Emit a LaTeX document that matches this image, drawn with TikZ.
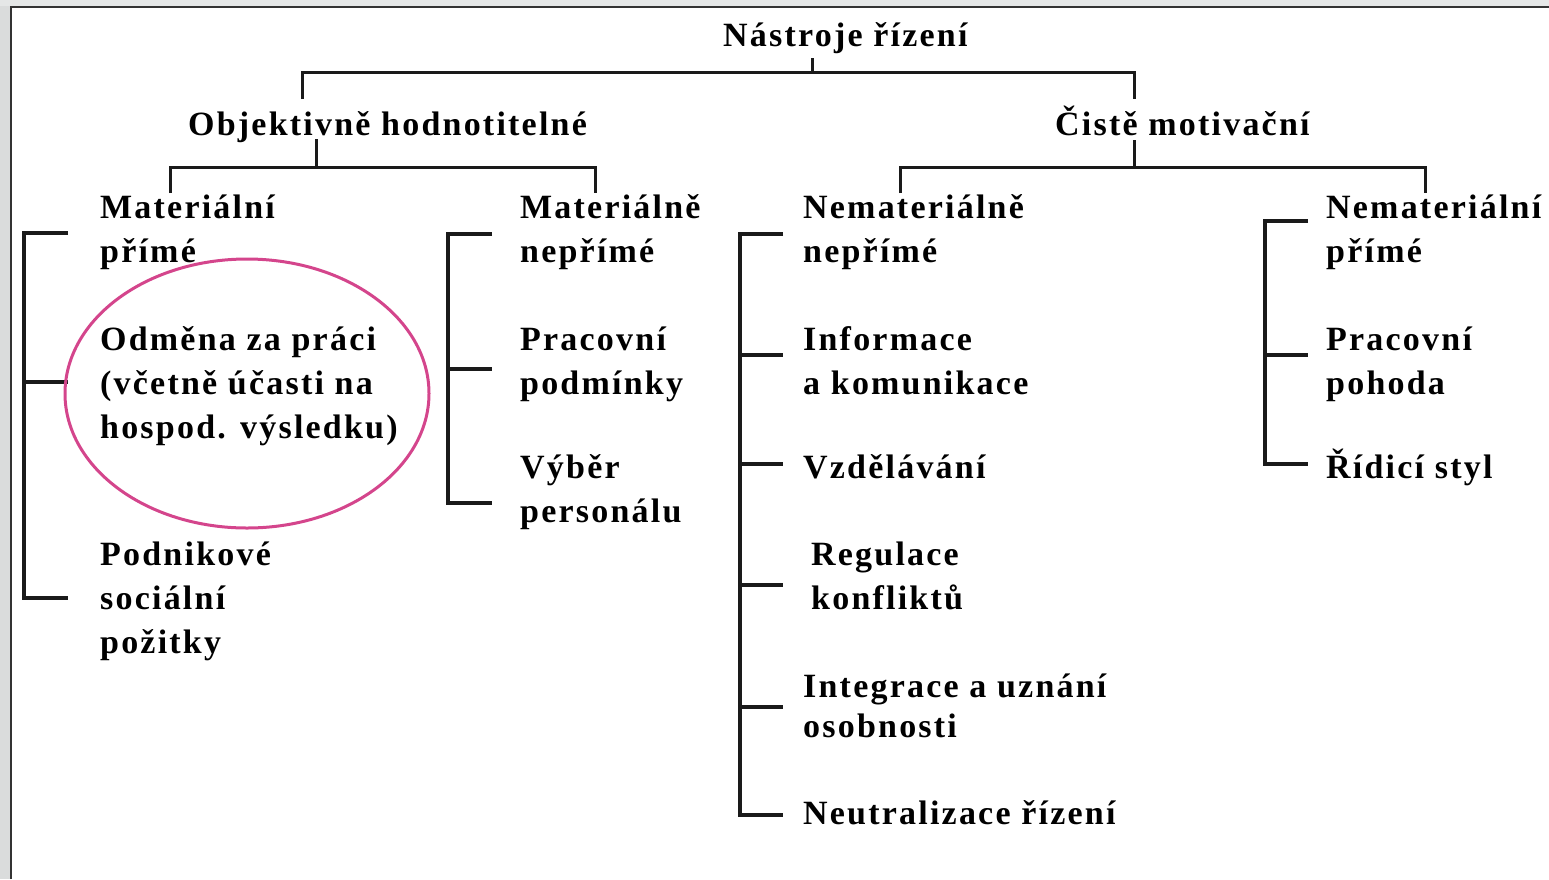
\documentclass[tikz,border=0pt]{standalone}
\usepackage{fontspec}
\setmainfont{Liberation Serif}[LetterSpace=6.5]
\definecolor{ellcol}{HTML}{D4458C}
\definecolor{framegray}{HTML}{DADCDC}
\definecolor{lineblack}{HTML}{1A1A1A}
\newcommand\twol[3][44pt]{\vtop{\baselineskip=#1\relax\lineskiplimit=-20pt\hbox{#2}\hbox{#3}}}
\newcommand\threel[3]{\vtop{\baselineskip=44pt\relax\lineskiplimit=-20pt\hbox{#1}\hbox{#2}\hbox{#3}}}
\tikzset{
  lbl/.style={inner sep=0pt, anchor=base west, font=\fontsize{34}{44}\selectfont\bfseries},
  conn/.style={draw=lineblack, line width=3pt},
  brk/.style={draw=lineblack, line width=3.5pt},
}
\begin{document}
\begin{tikzpicture}[x=1pt,y=-1pt]
\useasboundingbox (0,0) rectangle (1549,879);
% screenshot frame
\fill[framegray] (0,0) rectangle (10,879);
\fill[framegray!70] (0,0) rectangle (1549,6);
\draw[line width=1.6pt, black!80] (10.8,879) -- (10.8,6.8) -- (1549,6.8);

% texts
\node[lbl] (root) at (723,46) {Nástroje řízení};
\node[lbl] (obj) at (188,135) {Objektivně hodnotitelné};
\node[lbl] (cist) at (1055,135) {Čistě motivační};

\node[lbl] (mp) at (100,218) {\twol{Materiální}{přímé}};
\node[lbl] (odm) at (100,350) {\threel{Odměna za práci}{(včetně účasti na}{hospod. výsledku)}};
\node[lbl] (pod) at (100,565) {\threel{Podnikové}{sociální}{požitky}};

\node[lbl] (mn) at (520,218) {\twol{Materiálně}{nepřímé}};
\node[lbl] (pp) at (520,350) {\twol{Pracovní}{podmínky}};
\node[lbl] (vp) at (520,478) {\twol{Výběr}{personálu}};

\node[lbl] (nn) at (803,218) {\twol{Nemateriálně}{nepřímé}};
\node[lbl] (ik) at (803,350) {\twol{Informace}{a komunikace}};
\node[lbl] (vz) at (803,478) {Vzdělávání};
\node[lbl] (rk) at (811,565) {\twol{Regulace}{konfliktů}};
\node[lbl] (iu) at (803,697) {\twol[40pt]{Integrace a uznání}{osobnosti}};
\node[lbl] (nr) at (803,824) {Neutralizace řízení};

\node[lbl] (nm) at (1326,218) {\twol{Nemateriální}{přímé}};
\node[lbl] (pph) at (1326,350) {\twol{Pracovní}{pohoda}};
\node[lbl] (rs) at (1326,478) {Řídicí styl};

% tree connectors
\coordinate (rt) at (812,58);
\coordinate (rj) at (812,72);
\coordinate (objtop) at (302,99);
\coordinate (cisttop) at (1134,99);
\draw[conn] (rt) -- (rj);
\draw[conn] (objtop) |- (rj) -| (cisttop);

\coordinate (ot) at (316,139);
\coordinate (oj) at (316,167);
\coordinate (mptop) at (170,193);
\coordinate (mntop) at (595,193);
\draw[conn] (ot) -- (oj);
\draw[conn] (mptop) |- (oj) -| (mntop);

\coordinate (ct) at (1134,140);
\coordinate (cj) at (1134,167);
\coordinate (nntop) at (900,193);
\coordinate (nmtop) at (1425,193);
\draw[conn] (ct) -- (cj);
\draw[conn] (nntop) |- (cj) -| (nmtop);

% brackets
\draw[brk] (68,233) -| (24,598) -- (68,598);
\draw[brk] (24,382) -- (68,382);

\draw[brk] (492,234) -| (448,503) -- (492,503);
\draw[brk] (448,369) -- (492,369);

\draw[brk] (783,234) -| (740,815) -- (783,815);
\foreach \yy in {355,464,585,707} \draw[brk] (740,\yy) -- (783,\yy);

\draw[brk] (1308,221) -| (1265,464) -- (1308,464);
\draw[brk] (1265,355) -- (1308,355);

% highlight ellipse
\draw[ellcol, line width=3pt] (247,393.5) ellipse [x radius=182pt, y radius=134.5pt];
\end{tikzpicture}
\end{document}
